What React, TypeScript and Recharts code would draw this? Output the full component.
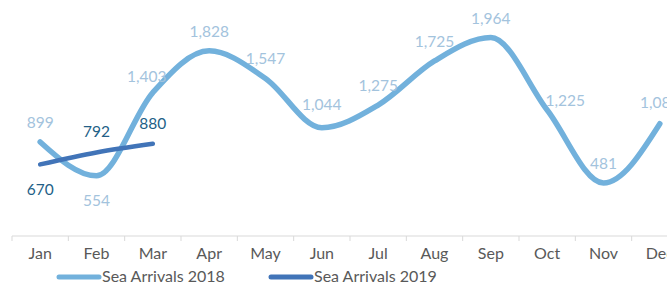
import React from 'react';
import { LineChart, Line, XAxis, YAxis, LabelList, Legend } from 'recharts';

const months = ['Jan', 'Feb', 'Mar', 'Apr', 'May', 'Jun', 'Jul', 'Aug', 'Sep', 'Oct', 'Nov', 'Dec'];
const arrivals2018 = [899, 554, 1403, 1828, 1547, 1044, 1275, 1725, 1964, 1225, 481, 1085];
const arrivals2019 = [670, 792, 880];

const data = months.map((m, i) => ({
  month: m,
  s2018: arrivals2018[i],
  s2019: i < arrivals2019.length ? arrivals2019[i] : null,
}));

const C2018 = '#72b1dc';
const C2019 = '#4174b8';
const L2018 = '#a3c3dd';
const L2019 = '#235f87';
const FONT = 'Lato, "Open Sans", sans-serif';
const W = 700;
const H = 284;
const M = { top: 34, right: 12, left: 12, bottom: 0 };
const BAND = (W - M.left - M.right) / months.length;

const fmt = (v: number) => v.toLocaleString('en-US');

const label2018 = (props: any) => {
  const { x, y, value, index } = props;
  if (value == null) return null;
  let dx = 0;
  let dy = -20;
  if (index === 1) dy = 24;
  if (index === 2) { dx = -6; dy = -17; }
  if (index === 5) dy = -24;
  if (index === 9) { dx = 18; dy = -10; }
  if (index === 11) dy = -22;
  return (
    <text x={x + dx} y={y + dy} fill={L2018} fontSize={15.5} fontFamily={FONT} textAnchor="middle" dominantBaseline="central">
      {fmt(value)}
    </text>
  );
};

const label2019 = (props: any) => {
  const { x, y, value, index } = props;
  if (value == null) return null;
  const dy = index === 0 ? 25 : -21;
  return (
    <text x={x} y={y + dy} fill={L2019} fontSize={15.5} fontFamily={FONT} textAnchor="middle" dominantBaseline="central">
      {fmt(value)}
    </text>
  );
};

const MonthTick = (props: any) => {
  const { x, y, payload, index } = props;
  const axisY = y - 8;
  return (
    <g>
      <line x1={x - BAND / 2} x2={x - BAND / 2} y1={axisY} y2={axisY + 5} stroke="#d9d9d9" />
      {index === months.length - 1 && (
        <line x1={x + BAND / 2} x2={x + BAND / 2} y1={axisY} y2={axisY + 5} stroke="#d9d9d9" />
      )}
      <text x={x} y={axisY + 16.5} fill="#595959" fontSize={16} fontFamily={FONT} textAnchor="middle" dominantBaseline="central">
        {payload.value}
      </text>
    </g>
  );
};

const LegendContent = () => (
  <div style={{ position: 'relative', height: 28, width: W, fontFamily: FONT, fontSize: 16, color: '#595959' }}>
    <svg width={W} height={28} style={{ position: 'absolute', left: 0, top: 0 }}>
      <line x1={59} x2={99} y1={21} y2={21} stroke={C2018} strokeWidth={5} strokeLinecap="round" />
      <line x1={271} x2={311} y1={21} y2={21} stroke={C2019} strokeWidth={5} strokeLinecap="round" />
    </svg>
    <span style={{ position: 'absolute', left: 102, top: 11, lineHeight: '17px', whiteSpace: 'nowrap' }}>Sea Arrivals 2018</span>
    <span style={{ position: 'absolute', left: 314, top: 11, lineHeight: '17px', whiteSpace: 'nowrap' }}>Sea Arrivals 2019</span>
  </div>
);

export default function App() {
  return (
    <div style={{ position: 'absolute', left: 0, top: 0, width: 667, height: 284, overflow: 'hidden', background: '#fff' }}>
      <LineChart width={W} height={H} data={data} margin={M}>
        <XAxis
          dataKey="month"
          scale="band"
          height={20}
          axisLine={{ stroke: '#d9d9d9' }}
          tickLine={false}
          tickSize={6}
          tickMargin={2}
          interval={0}
          tick={<MonthTick />}
        />
        <YAxis hide domain={[-60, 2000]} />
        <Legend verticalAlign="bottom" height={28} content={<LegendContent />} wrapperStyle={{ left: 0, width: W }} />
        <Line
          type="monotone"
          dataKey="s2018"
          stroke={C2018}
          strokeWidth={5.5}
          strokeLinecap="round"
          dot={false}
          activeDot={false}
          isAnimationActive={false}
        >
          <LabelList dataKey="s2018" content={label2018} />
        </Line>
        <Line
          type="monotone"
          dataKey="s2019"
          stroke={C2019}
          strokeWidth={4.5}
          strokeLinecap="round"
          dot={false}
          activeDot={false}
          connectNulls={false}
          isAnimationActive={false}
        >
          <LabelList dataKey="s2019" content={label2019} />
        </Line>
      </LineChart>
    </div>
  );
}
